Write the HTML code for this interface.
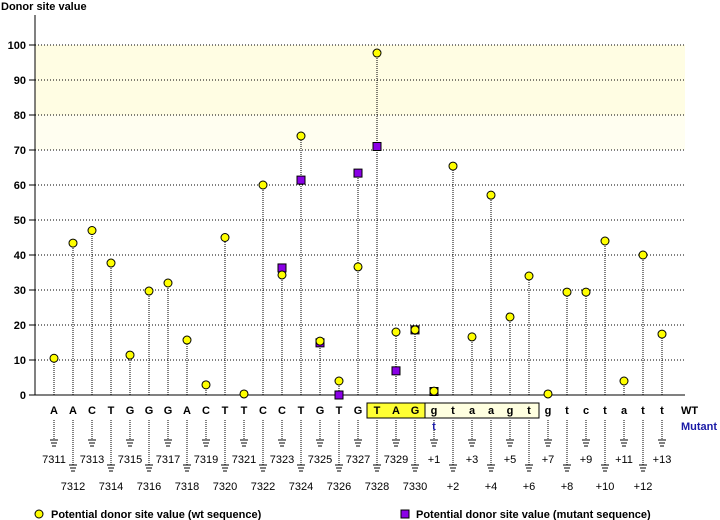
<!DOCTYPE html>
<html><head><meta charset="utf-8"><style>
body{margin:0;background:#fff;}
svg{display:block;font-family:"Liberation Sans",sans-serif;}
.b{font-weight:bold;}
</style></head><body>
<svg id="c" width="720" height="520"></svg>
<script>
const positions=["7311","7312","7313","7314","7315","7316","7317","7318","7319","7320","7321","7322","7323","7324","7325","7326","7327","7328","7329","7330","+1","+2","+3","+4","+5","+6","+7","+8","+9","+10","+11","+12","+13"];
const bases=["A","A","C","T","G","G","G","A","C","T","T","C","C","T","G","T","G","T","A","G","g","t","a","a","g","t","g","t","c","t","a","t","t"];
const wtValues=[10.5,43.4,47,37.7,11.4,29.7,32,15.7,2.9,45,0.3,60,34.3,74,15.4,4,36.6,97.7,18,18.6,1.1,65.4,16.6,57.1,22.3,34,0.3,29.4,29.4,44,4,40,17.4];
const mutValues=[null,null,null,null,null,null,null,null,null,null,null,null,36.3,61.4,14.9,0,63.4,71,6.9,18.6,1,null,null,null,null,null,null,null,null,null,null,null,null];
const yTicks=[0,10,20,30,40,50,60,70,80,90,100];
const NS="http://www.w3.org/2000/svg";
const svg=document.getElementById('c');
const X0=35,X1=685,Y0=395,Y100=45;
const y=v=>Y0-(v/100)*(Y0-Y100);
const x=i=>54+i*19;
function mk(t,a,p){const e=document.createElementNS(NS,t);for(const k in a)e.setAttribute(k,a[k]);(p||svg).appendChild(e);return e;}
// bands
let e=mk('rect',{x:X0,y:y(100),width:X1-X0,height:y(80)-y(100),fill:'#fffde3'});


e=mk('rect',{x:X0,y:y(80),width:X1-X0,height:y(70)-y(80),fill:'#fffef0'});


// grid + ticks
yTicks.forEach(t=>{
  if(t>0){e=mk('line',{x1:X0,x2:X1,y1:y(t),y2:y(t),stroke:'#000','stroke-dasharray':'1 2'});
  
  }
  mk('line',{x1:X0-6,x2:X0,y1:y(t),y2:y(t),stroke:'#000'});
  e=mk('text',{x:X0-9,y:y(t)+4,'text-anchor':'end','font-size':11,class:'b'});e.textContent=t;
  
  
});
e=mk('line',{x1:X0,x2:X0,y1:15,y2:Y0,stroke:'#000'});


e=mk('line',{x1:X0,x2:X1,y1:Y0,y2:Y0,stroke:'#000'});


e=mk('text',{x:1,y:10,'font-size':11,class:'b'});e.textContent='Donor site value';


// sequence box
e=mk('rect',{x:x(20)-10,y:403,width:x(25)-x(20)+20,height:15,fill:'#ffffe0',stroke:'#000'});


e=mk('rect',{x:x(17)-10,y:403,width:x(19)-x(17)+20,height:15,fill:'#ffff33',stroke:'#000'});


// stems and marks
bases.forEach((b,i)=>{
  const cx=x(i);
  const m=mutValues[i];
  const top=Math.max(wtValues[i],m==null?0:m);
  e=mk('line',{x1:cx,x2:cx,y1:Y0,y2:y(top),stroke:'#000','stroke-dasharray':'1 1'});
  
  
  e=mk('text',{x:cx,y:414,'text-anchor':'middle','font-size':11,class:'b'});e.textContent=b;
  
  
  const odd=i%2===1;
  const ly=odd?465:440;
  mk('line',{x1:cx,x2:cx,y1:420,y2:ly,stroke:'#000','stroke-dasharray':'1 1'});
  mk('line',{x1:cx-4,x2:cx+4,y1:ly,y2:ly,stroke:'#000'});
  mk('line',{x1:cx-3,x2:cx+3,y1:ly+3,y2:ly+3,stroke:'#000'});
  mk('line',{x1:cx-2,x2:cx+2,y1:ly+6,y2:ly+6,stroke:'#000'});
  e=mk('text',{x:cx,y:odd?490:463,'text-anchor':'middle','font-size':11});e.textContent=positions[i];
  
  
});
bases.forEach((b,i)=>{
  const cx=x(i);
  const m=mutValues[i];
  if(m!=null){e=mk('rect',{x:cx-4,y:y(m)-4,width:8,height:8,fill:'#8a00e6',stroke:'#000'});
    
    }
  e=mk('circle',{cx:cx,cy:y(wtValues[i]),r:4,fill:'#ffff00',stroke:'#000'});
  
  
});
e=mk('text',{x:x(20),y:430,'text-anchor':'middle','font-size':11,fill:'#1a1aa6',class:'b'});e.textContent='t';


e=mk('text',{x:681,y:414,'font-size':11,class:'b'});e.textContent='WT';


e=mk('text',{x:681,y:430,'font-size':11,fill:'#1a1aa6',class:'b'});e.textContent='Mutant';


// legend
e=mk('circle',{cx:39,cy:514,r:4,fill:'#ffff00',stroke:'#000'});


e=mk('text',{x:51,y:518,'font-size':11,class:'b'});e.textContent='Potential donor site value (wt sequence)';


e=mk('rect',{x:401,y:510,width:8,height:8,fill:'#8a00e6',stroke:'#000'});


e=mk('text',{x:416,y:518,'font-size':11,class:'b'});e.textContent='Potential donor site value (mutant sequence)';


</script>
</body></html>
